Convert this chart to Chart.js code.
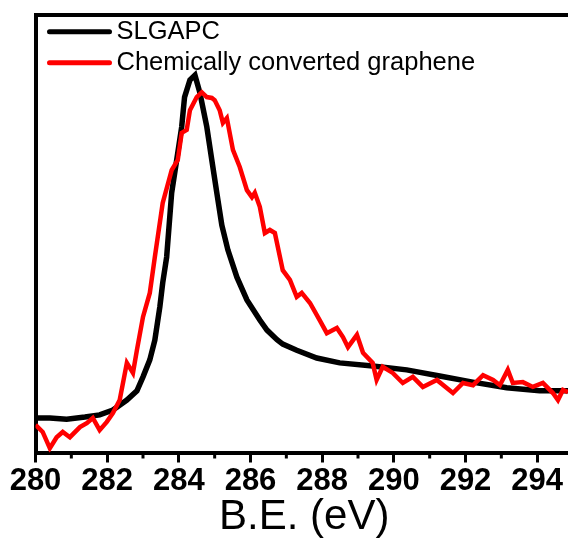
<!DOCTYPE html>
<html>
<head>
<meta charset="utf-8">
<script src="https://cdn.jsdelivr.net/npm/chart.js@4/dist/chart.umd.min.js"></script>
<style>
    html, body { margin: 0; padding: 0; background: #fff; overflow: hidden; }
    #wrap { width: 590px; height: 540px; position: relative; }
</style>
</head>
<body>
<div id="wrap"><canvas id="xpsChart"></canvas></div>
<script>
// ==================== C1s XPS SPECTRA ====================

const seriesNames = ["SLGAPC", "Chemically converted graphene"];
const seriesColors = ["#000000", "#ff0000"];

// SLGAPC: binding energy (eV) and intensity (a.u.)
const slgapcEv = [280.0, 280.4, 280.87, 281.38, 281.79, 282.16, 282.55, 282.83, 283.0, 283.19,
    283.33, 283.47, 283.55, 283.66, 283.8, 283.94, 284.08, 284.16, 284.31, 284.45,
    284.59, 284.78, 284.92, 285.06, 285.2, 285.37, 285.62, 285.9, 286.26, 286.46,
    286.74, 286.9, 287.29, 287.85, 288.49, 289.41, 290.36, 291.28, 292.2, 293.15,
    294.07, 294.86];
const slgapcInt = [7.9, 7.9, 7.6, 8.1, 8.6, 9.7, 12.0, 14.1, 17.3, 21.2,
    25.7, 33.3, 38.8, 44.7, 59.4, 66.9, 74.5, 81.3, 85.2, 86.3,
    82.2, 74.5, 66.9, 59.4, 52.0, 46.3, 40.1, 34.9, 30.3, 28.0,
    25.8, 24.8, 23.4, 21.6, 20.5, 19.8, 18.9, 17.5, 16.1, 14.8,
    14.1, 14.1];

// Chemically converted graphene
const ccgEv = [280.0, 280.2, 280.4, 280.59, 280.76, 280.96, 281.24, 281.43, 281.6, 281.79,
    281.99, 282.16, 282.35, 282.55, 282.72, 282.83, 283.0, 283.19, 283.33, 283.55,
    283.8, 283.97, 284.08, 284.22, 284.31, 284.5, 284.64, 284.78, 284.92, 285.0,
    285.14, 285.23, 285.34, 285.51, 285.7, 285.9, 286.04, 286.12, 286.26, 286.4,
    286.54, 286.68, 286.9, 287.1, 287.29, 287.43, 287.66, 287.93, 288.13, 288.41,
    288.58, 288.72, 288.97, 289.14, 289.41, 289.52, 289.69, 289.97, 290.25, 290.53,
    290.81, 291.2, 291.65, 291.93, 292.21, 292.49, 292.77, 292.96, 293.18, 293.32,
    293.6, 293.88, 294.16, 294.44, 294.58, 294.72, 294.86];
const ccgInt = [6.3, 4.7, 1.0, 3.5, 4.7, 3.5, 5.8, 6.7, 7.9, 5.1,
    7.0, 9.0, 12.0, 20.5, 18.2, 23.4, 31.0, 36.5, 44.7, 57.1,
    64.6, 66.9, 73.1, 73.8, 78.3, 81.3, 82.4, 81.3, 81.1, 80.6,
    78.3, 75.4, 76.5, 69.2, 65.3, 60.0, 58.4, 59.4, 56.2, 50.2,
    50.9, 50.2, 41.7, 39.5, 35.6, 36.5, 34.2, 30.3, 27.3, 28.5,
    26.4, 24.1, 26.9, 22.8, 20.5, 16.6, 19.6, 18.2, 15.9, 17.3,
    15.0, 16.6, 13.6, 15.9, 15.4, 17.7, 16.6, 15.4, 18.9, 15.9,
    16.1, 15.0, 15.9, 13.6, 12.0, 14.3, 13.8];

const majorTicks = [280, 282, 284, 286, 288, 290, 292, 294];
const minorTicks = [281, 283, 285, 287, 289, 291, 293];

const FONT = "'Liberation Sans', Arial, sans-serif";

function toPoints(xs, ys) {
    return xs.map((x, i) => ({ x: x, y: ys[i] }));
}

// short ticks at the odd energies
const minorTickPlugin = {
    id: 'minorTicks',
    afterDraw(chart) {
        const scale = chart.scales.x;
        const ctx = chart.ctx;
        ctx.save();
        ctx.strokeStyle = '#000';
        ctx.lineWidth = 3;
        minorTicks.forEach(v => {
            const px = scale.getPixelForValue(v);
            ctx.beginPath();
            ctx.moveTo(px, scale.top);
            ctx.lineTo(px, scale.top + 6);
            ctx.stroke();
        });
        ctx.restore();
    }
};

// legend drawn inside the plot, top left
const insideLegendPlugin = {
    id: 'insideLegend',
    afterDraw(chart) {
        const ctx = chart.ctx;
        const area = chart.chartArea;
        ctx.save();
        ctx.font = '25.5px ' + FONT;
        ctx.textBaseline = 'middle';
        ctx.textAlign = 'left';
        chart.data.datasets.forEach((ds, i) => {
            const y = area.top + 16.5 + i * 31;
            ctx.strokeStyle = ds.borderColor;
            ctx.lineWidth = 5;
            ctx.lineCap = 'round';
            ctx.beginPath();
            ctx.moveTo(area.left + 14, y);
            ctx.lineTo(area.left + 74, y);
            ctx.stroke();
            ctx.fillStyle = '#000';
            ctx.fillText(ds.label, area.left + 81, y);
        });
        ctx.restore();
    }
};

const ctx = document.getElementById('xpsChart').getContext('2d');

new Chart(ctx, {
    type: 'line',
    data: {
        datasets: [
            {
                label: seriesNames[0],
                data: toPoints(slgapcEv, slgapcInt),
                borderColor: seriesColors[0],
                borderWidth: 5.5,
                pointRadius: 0,
                tension: 0,
                order: 1
            },
            {
                label: seriesNames[1],
                data: toPoints(ccgEv, ccgInt),
                borderColor: seriesColors[1],
                borderWidth: 4.5,
                pointRadius: 0,
                tension: 0,
                order: 0
            }
        ]
    },
    options: {
        responsive: true,
        maintainAspectRatio: false,
        animation: false,
        layout: { padding: { left: 35.5, top: 15.3, right: 17, bottom: 0 } },
        plugins: {
            legend: { display: false },
            tooltip: { enabled: false }
        },
        scales: {
            x: {
                type: 'linear',
                position: 'bottom',
                min: 280,
                max: 295,
                afterBuildTicks: (scale) => { scale.ticks = majorTicks.map(v => ({ value: v })); },
                afterFit: (scale) => { scale.height = 87.5; },
                grid: { display: true, drawOnChartArea: false, tickLength: 10, tickWidth: 3, tickColor: '#000' },
                border: { display: true, width: 4, color: '#000' },
                ticks: {
                    color: '#000',
                    padding: 0,
                    maxRotation: 0,
                    font: { family: FONT, size: 31, weight: 'bold' }
                },
                title: {
                    display: true,
                    text: 'B.E. (eV)',
                    color: '#000',
                    padding: { top: 0, bottom: -3 },
                    font: { family: FONT, size: 42 }
                }
            },
            xTop: {
                type: 'linear',
                position: 'top',
                min: 280,
                max: 295,
                afterFit: (scale) => { scale.height = 0; },
                grid: { display: false, drawTicks: false },
                border: { display: true, width: 4, color: '#000' },
                ticks: { display: false }
            },
            y: {
                min: 0,
                max: 100,
                afterFit: (scale) => { scale.width = 0; },
                grid: { display: false, drawTicks: false },
                border: { display: true, width: 4, color: '#000' },
                ticks: { display: false }
            }
        }
    },
    plugins: [minorTickPlugin, insideLegendPlugin]
});
</script>
</body>
</html>
